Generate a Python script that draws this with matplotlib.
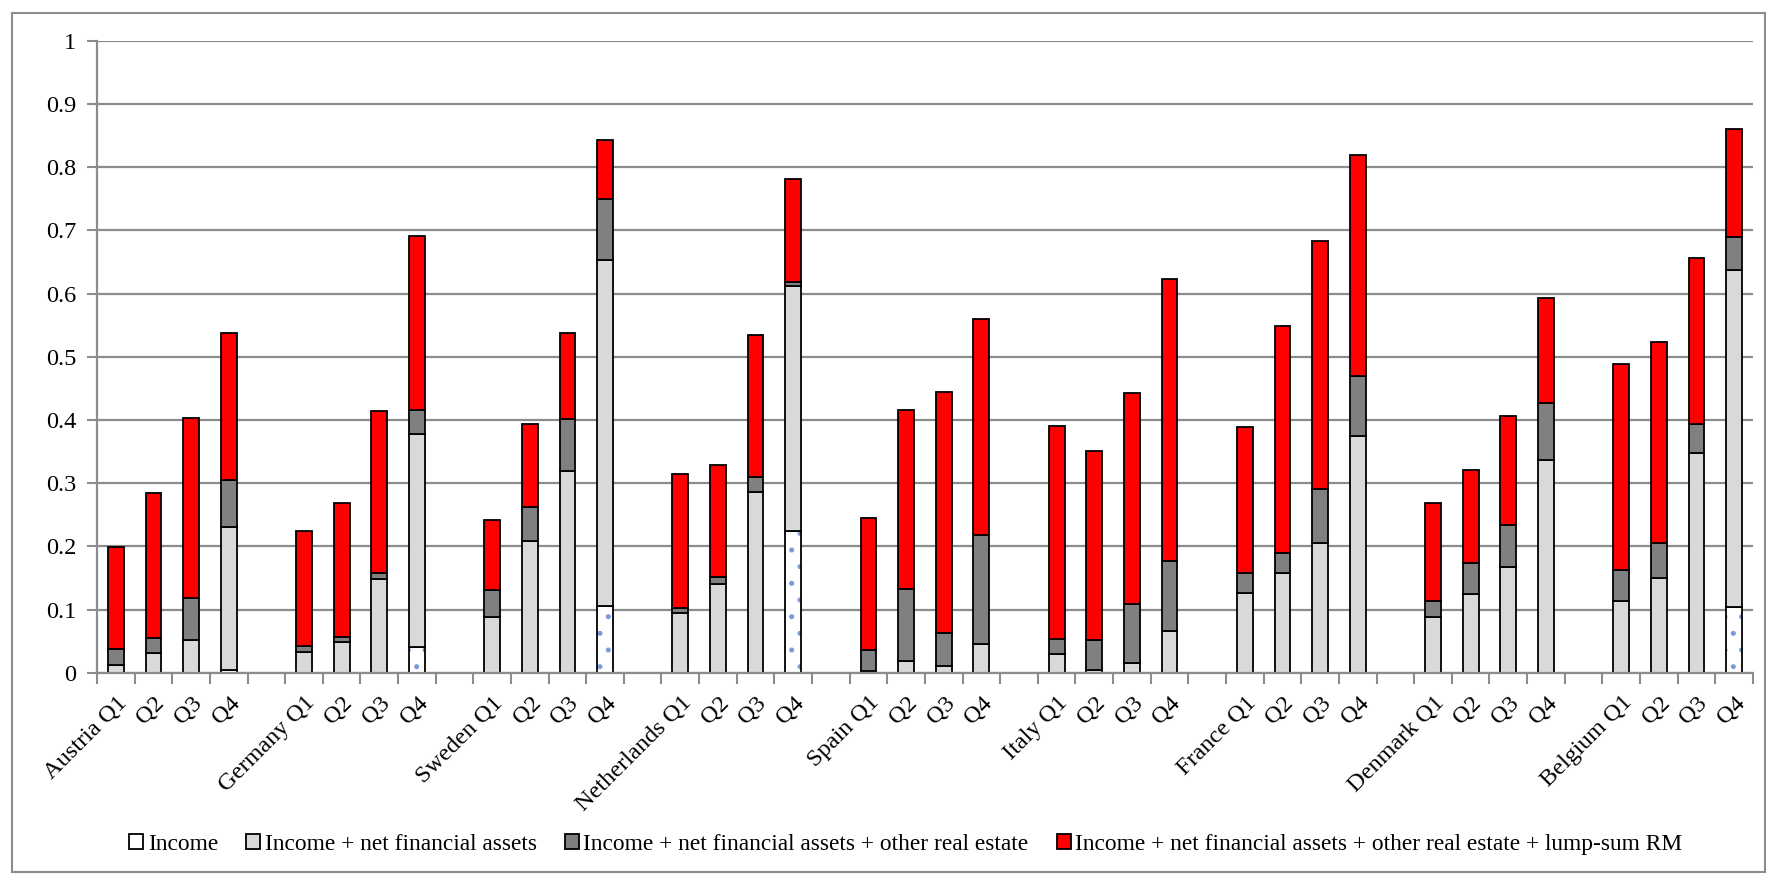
import matplotlib
matplotlib.use('Agg')
import matplotlib.pyplot as plt
from matplotlib.patches import Rectangle

plt.rcParams['font.family'] = ['Liberation Serif', 'DejaVu Serif']
plt.rcParams['hatch.linewidth'] = 1.2

countries = ['Austria', 'Germany', 'Sweden', 'Netherlands', 'Spain',
             'Italy', 'France', 'Denmark', 'Belgium']
quartiles = ['Q1', 'Q2', 'Q3', 'Q4']

# cumulative levels, 4 quartiles per country
income = [0, 0, 0, 0.005,   0, 0, 0, 0.041,   0, 0, 0, 0.106,
          0, 0, 0, 0.224,   0, 0, 0, 0,       0, 0, 0, 0,
          0, 0, 0, 0,       0, 0, 0, 0,       0, 0, 0, 0.104]
inc_nfa = [0.012, 0.031, 0.051, 0.231,   0.033, 0.049, 0.149, 0.378,
           0.088, 0.209, 0.319, 0.653,   0.095, 0.140, 0.286, 0.612,
           0.002, 0.018, 0.010, 0.045,   0.029, 0.005, 0.016, 0.066,
           0.126, 0.157, 0.205, 0.374,   0.088, 0.124, 0.167, 0.336,
           0.114, 0.150, 0.347, 0.637]
inc_nfa_ore = [0.038, 0.055, 0.118, 0.305,   0.043, 0.056, 0.157, 0.416,
               0.131, 0.262, 0.402, 0.750,   0.103, 0.151, 0.310, 0.618,
               0.036, 0.132, 0.063, 0.218,   0.053, 0.052, 0.108, 0.177,
               0.157, 0.190, 0.291, 0.470,   0.113, 0.174, 0.234, 0.427,
               0.163, 0.205, 0.394, 0.690]
inc_nfa_ore_rm = [0.199, 0.284, 0.403, 0.538,   0.224, 0.269, 0.414, 0.691,
                  0.242, 0.394, 0.538, 0.843,   0.315, 0.328, 0.535, 0.781,
                  0.245, 0.416, 0.444, 0.560,   0.391, 0.351, 0.443, 0.623,
                  0.389, 0.548, 0.683, 0.820,   0.269, 0.321, 0.406, 0.593,
                  0.488, 0.523, 0.657, 0.861]

series_names = ['Income',
                'Income + net financial assets',
                'Income + net financial assets + other real estate',
                'Income + net financial assets + other real estate + lump-sum RM']

fig = plt.figure(figsize=(17.76, 8.82), dpi=100)
ax = fig.add_axes([0.0546, 0.2373, 0.9324, 0.7164])

# outer frame
fig.patches.append(Rectangle((0.0068, 0.011), 0.987, 0.974, transform=fig.transFigure,
                             fill=False, edgecolor='#8c8c8c', linewidth=1.5))

pos = []
labels = []
for i, c in enumerate(countries):
    for j, q in enumerate(quartiles):
        pos.append(i * 5 + j)
        labels.append(c + ' ' + q if j == 0 else q)

h0 = income
h1 = [b - a for a, b in zip(income, inc_nfa)]
h2 = [b - a for a, b in zip(inc_nfa, inc_nfa_ore)]
h3 = [b - a for a, b in zip(inc_nfa_ore, inc_nfa_ore_rm)]

w = 0.42
lw = 1.3
# income: blue dots first, black outline on top
ax.bar(pos, h0, w, color='white', edgecolor='#7a9ad8', linewidth=0, hatch='.')
ax.bar(pos, h0, w, color='none', edgecolor='black', linewidth=lw)
ax.bar(pos, h1, w, bottom=income, color='#d9d9d9', edgecolor='black', linewidth=lw)
ax.bar(pos, h2, w, bottom=inc_nfa, color='#808080', edgecolor='black', linewidth=lw)
ax.bar(pos, h3, w, bottom=inc_nfa_ore, color='#ff0000', edgecolor='black', linewidth=lw)

ax.set_xlim(-0.5, pos[-1] + 0.5)
ax.set_ylim(0, 1)
ax.set_yticks([i / 10 for i in range(11)])
ax.set_yticklabels(['0', '0.1', '0.2', '0.3', '0.4', '0.5', '0.6', '0.7', '0.8', '0.9', '1'])

ax.set_xticks(pos)
ax.set_xticklabels(labels, rotation=45, ha='right', va='top', rotation_mode='anchor')
ax.set_xticks([k - 0.5 for k in range(pos[-1] + 2)], minor=True)
ax.tick_params(axis='x', which='major', length=0, pad=14, labelsize=17.5)
ax.tick_params(axis='x', which='minor', length=8, width=1.5, color='#8c8c8c')
ax.tick_params(axis='y', length=7, width=1.5, color='#8c8c8c', labelsize=17.5, pad=8)

ax.grid(axis='y', color='#8c8c8c', linewidth=1.6)
ax.set_axisbelow(True)
for s in ['top', 'right']:
    ax.spines[s].set_visible(False)
for s in ['left', 'bottom']:
    ax.spines[s].set_color('#8c8c8c')
    ax.spines[s].set_linewidth(1.6)

colors = ['white', '#d9d9d9', '#808080', '#ff0000']
handles = [Rectangle((0, 0), 1, 1, facecolor=c, edgecolor='black', linewidth=1.3) for c in colors]
fig.legend(handles, series_names, loc='center', bbox_to_anchor=(0.51, 0.043), ncol=4,
           frameon=False, fontsize=16.8, handlelength=0.6, handleheight=0.6,
           handletextpad=0.2, columnspacing=1.2)

fig.savefig('out.png', dpi=100)
